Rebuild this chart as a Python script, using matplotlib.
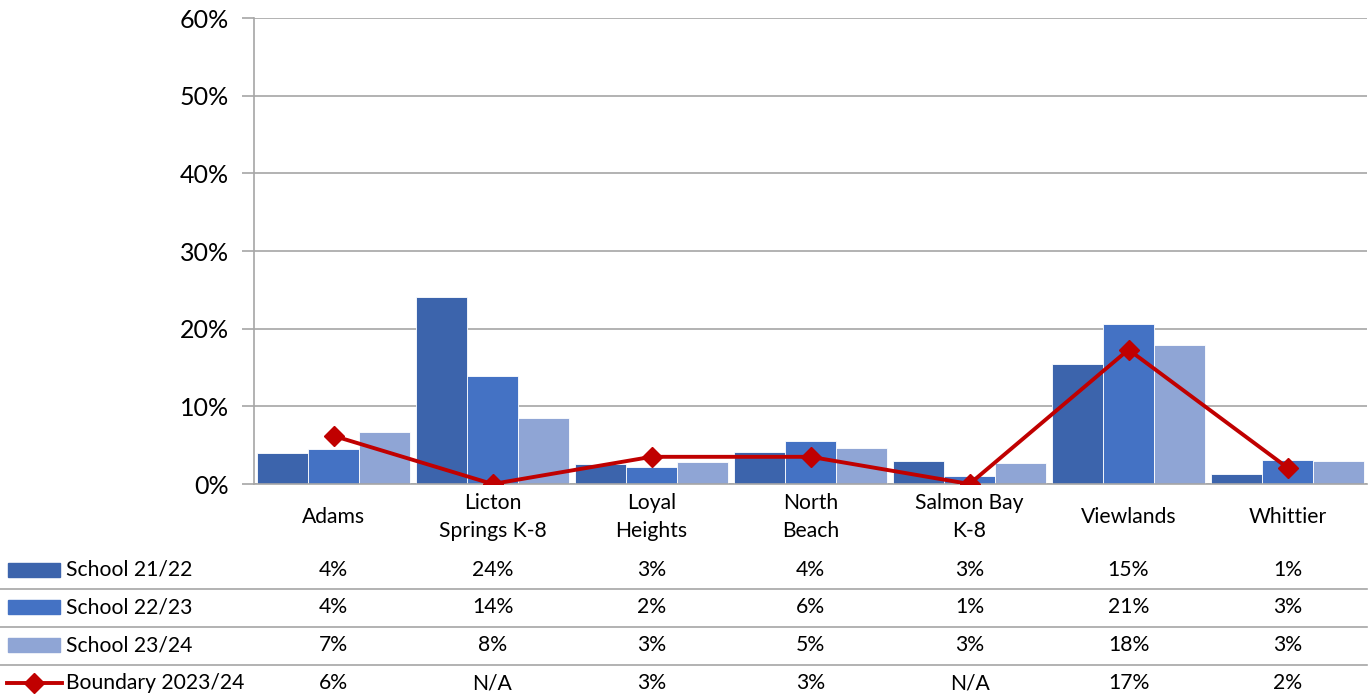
#!/usr/bin/env python3
"""Excel-style clustered bars + line with a data table below."""
import matplotlib
matplotlib.use("Agg")
import matplotlib.pyplot as plt
import matplotlib.transforms as mtransforms
from matplotlib.patches import Rectangle
from matplotlib.lines import Line2D
import numpy as np

schools = ["Adams", "Licton\nSprings K-8", "Loyal\nHeights", "North\nBeach",
           "Salmon Bay\nK-8", "Viewlands", "Whittier"]

school_2122 = [4.0, 24.1, 2.6, 4.1, 2.9, 15.4, 1.3]
school_2223 = [4.5, 13.9, 2.2, 5.6, 1.0, 20.6, 3.1]
school_2324 = [6.7, 8.5, 2.8, 4.6, 2.7, 17.9, 2.9]
boundary = [6.2, 0.0, 3.5, 3.5, 0.0, 17.3, 2.1]
boundary_label = ["6%", "N/A", "3%", "3%", "N/A", "17%", "2%"]

series_names = ["School 21/22", "School 22/23", "School 23/24", "Boundary 2023/24"]
COLORS = ["#3C64AC", "#4472C4", "#8FA5D5"]
LINE_COLOR = "#C00000"
GRID = "#A6A6A6"

plt.rcParams["font.family"] = ["Lato", "DejaVu Sans"]

W, H = 1372, 700
FS = 15.2
fig = plt.figure(figsize=(W / 100, H / 100), dpi=100)
ax = fig.add_axes([254 / W, (H - 484) / H, (1367 - 254) / W, (484 - 18) / H])

x = np.arange(len(schools))
bw = 0.322
for k, (vals, col) in enumerate(zip([school_2122, school_2223, school_2324], COLORS)):
    ax.bar(x + (k - 1) * bw, vals, width=bw, color=col, edgecolor="white",
           linewidth=0.6, zorder=2)

ax.plot(x, boundary, color=LINE_COLOR, lw=2.8, marker="D", ms=10, zorder=4)

ax.set_xlim(-0.5, len(schools) - 0.5)
ax.set_ylim(0, 60)
ax.set_yticks(range(0, 61, 10))
ax.set_yticklabels([f"{v}%" for v in range(0, 61, 10)], fontsize=18)
ax.yaxis.grid(True, color=GRID, lw=1.2, zorder=0)
ax.set_axisbelow(True)
ax.tick_params(axis="y", length=9, color=GRID, pad=9, width=1.2)
ax.tick_params(axis="x", length=0)
ax.set_xticks([])
for s in ["top", "right"]:
    ax.spines[s].set_visible(False)
ax.spines["left"].set_color(GRID)
ax.spines["left"].set_linewidth(1.2)
ax.spines["bottom"].set_color(GRID)
ax.spines["bottom"].set_linewidth(1.2)

# category labels and data table, x in data units, y in figure fraction
trans = mtransforms.blended_transform_factory(ax.transData, fig.transFigure)
for i, name in enumerate(schools):
    ax.text(i, 1 - 517 / H, name, transform=trans, ha="center", va="center",
            fontsize=FS, linespacing=1.5)

rows = [
    [f"{v:.0f}%" for v in school_2122],
    [f"{v:.0f}%" for v in school_2223],
    [f"{v:.0f}%" for v in school_2324],
    boundary_label,
]
row_y = [570, 607, 645, 683]
for r, (vals, yy) in enumerate(zip(rows, row_y)):
    for i, v in enumerate(vals):
        ax.text(i, 1 - yy / H, v, transform=trans, ha="center", va="center",
                fontsize=FS)
    fig.text(66 / W, 1 - yy / H, series_names[r], ha="left", va="center",
             fontsize=FS)

# legend keys
for r in range(3):
    yy = row_y[r]
    fig.patches.append(Rectangle((8 / W, 1 - (yy + 7) / H), 52 / W, 14 / H,
                                 transform=fig.transFigure, color=COLORS[r]))
fig.lines.append(Line2D([7 / W, 62 / W], [1 - 683 / H] * 2, transform=fig.transFigure,
                        color=LINE_COLOR, lw=2.8))
fig.lines.append(Line2D([34 / W], [1 - 683 / H], transform=fig.transFigure,
                        color=LINE_COLOR, marker="D", ms=10))

# table row separators
for yy in [589, 627, 665]:
    fig.lines.append(Line2D([0, 1367 / W], [1 - yy / H] * 2, transform=fig.transFigure,
                            color=GRID, lw=1.2))

fig.savefig("out.png", dpi=100)
